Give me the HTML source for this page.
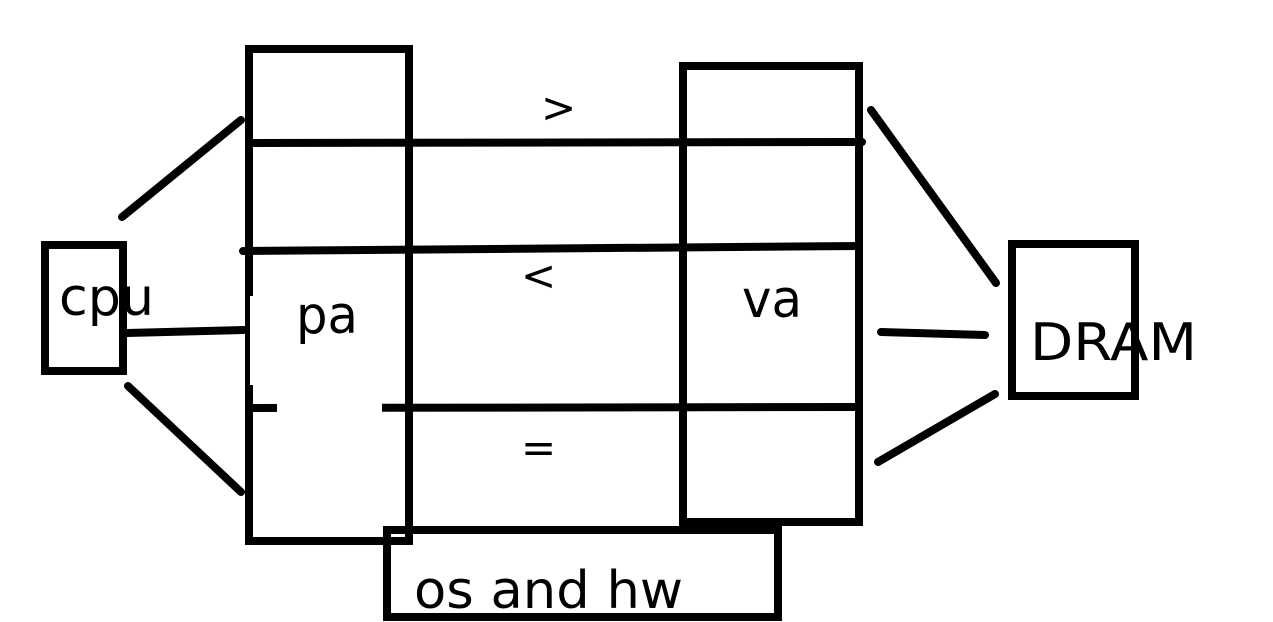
<!DOCTYPE html>
<html><head><meta charset="utf-8"><style>
html,body{margin:0;padding:0;background:#fff;width:1273px;height:622px;overflow:hidden}
text{font-family:"DejaVu Sans","Liberation Sans",sans-serif;fill:#000}
</style></head><body>
<svg width="1273" height="622" viewBox="0 0 1273 622" xmlns="http://www.w3.org/2000/svg">
<g fill="none" stroke="#000" stroke-width="8" stroke-linecap="round">
<rect x="249" y="49" width="160" height="492"/>
<rect x="683" y="66" width="176" height="456"/>
<line x1="249" y1="143" x2="862" y2="142"/>
<line x1="243" y1="251" x2="859" y2="246"/>
<line x1="249" y1="408" x2="859" y2="407"/>
<rect x="45" y="245" width="78" height="126"/>
<rect x="1012" y="244" width="123" height="152"/>
<rect x="387" y="530" width="391" height="87"/>
<line x1="122" y1="217" x2="241" y2="120"/>
<line x1="127" y1="333" x2="244" y2="330"/>
<line x1="128" y1="386" x2="241" y2="492"/>
<line x1="871" y1="110" x2="996" y2="283"/>
<line x1="881" y1="332" x2="985" y2="335"/>
<line x1="878" y1="462" x2="995" y2="394"/>
</g>
<rect x="250" y="296" width="132" height="89" fill="#fff"/>
<rect x="277" y="385" width="105" height="27" fill="#fff"/>
<text x="59" y="315" font-size="52" textLength="95" lengthAdjust="spacingAndGlyphs">cpu</text>
<text x="296" y="333" font-size="52" textLength="62" lengthAdjust="spacingAndGlyphs">pa</text>
<text x="742" y="317" font-size="52" textLength="60" lengthAdjust="spacingAndGlyphs">va</text>
<text x="1030" y="360" font-size="52" textLength="167" lengthAdjust="spacingAndGlyphs">DRAM</text>
<text x="541" y="122" font-size="42">&gt;</text>
<text x="521" y="290" font-size="42">&lt;</text>
<text x="521" y="462" font-size="42">=</text>
<text x="414" y="608" font-size="52" textLength="269" lengthAdjust="spacingAndGlyphs">os and hw</text>
</svg>
</body></html>
